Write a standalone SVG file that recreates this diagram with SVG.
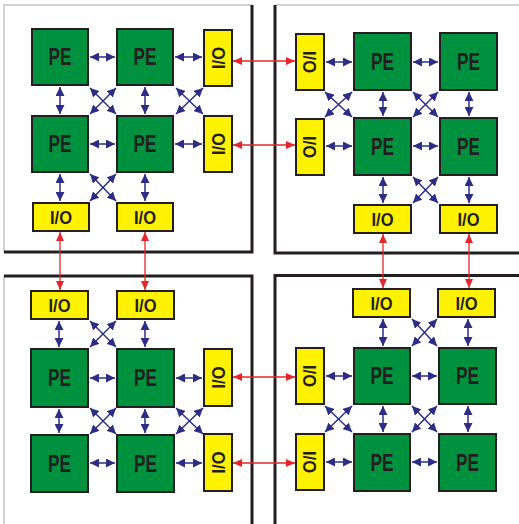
<svg xmlns="http://www.w3.org/2000/svg" width="519" height="524" viewBox="0 0 519 524">
<style>
.pe{fill:#00913f;stroke:#231f20;stroke-width:2}
.io{fill:#fff200;stroke:#231f20;stroke-width:2}
.t{font-family:"Liberation Sans",Arial,sans-serif;font-weight:bold;fill:#231f20;text-anchor:middle}
.tp{font-size:23px}
.ti{font-size:19px}
.n{stroke:#2e2d86;stroke-width:1.5;fill:none;marker-start:url(#nh);marker-end:url(#nh)}
.r{stroke:#e5262a;stroke-width:1.3;fill:none;marker-start:url(#rh);marker-end:url(#rh)}
.gl{stroke:#c4c4c4;stroke-width:1.5;fill:none}
.bl{stroke:#231f20;stroke-width:3;fill:none}
</style>
<defs>
<marker id="nh" viewBox="0 0 9 9" markerWidth="9" markerHeight="9" refX="9" refY="4.5" orient="auto-start-reverse" markerUnits="userSpaceOnUse"><path d="M0,0 L9,4.5 L0,9 z" fill="#2e2d86"/></marker>
<marker id="rh" viewBox="0 0 9 8" markerWidth="9" markerHeight="8" refX="9" refY="4" orient="auto-start-reverse" markerUnits="userSpaceOnUse"><path d="M0,0 L9,4 L0,8 z" fill="#e5262a"/></marker>
</defs>
<rect width="519" height="524" fill="#fff"/>
<g id="panels">
<path class="gl" d="M4,252 V5 H252"/>
<path class="bl" d="M252,5 V252 H4"/>
<path class="gl" d="M275,5 H519"/>
<path class="bl" d="M275,5 V253 H519"/>
<path class="gl" d="M4,276 V524"/>
<path class="bl" d="M4,276 H252 V524"/>
<path class="bl" d="M275,524 V275.5 H519"/>
</g>
<g id="connectors">
<!-- TL -->
<path class="n" d="M90,57 H115"/><path class="n" d="M175,57 H202"/>
<path class="n" d="M90,144 H115"/><path class="n" d="M175,144 H202"/>
<path class="n" d="M60,87 V114"/><path class="n" d="M145,87 V114"/>
<path class="n" d="M60,174 V201"/><path class="n" d="M145,174 V201"/>
<path class="n" d="M90,88 L116,114"/><path class="n" d="M116,88 L90,114"/>
<path class="n" d="M176,88 L203,114"/><path class="n" d="M203,88 L176,114"/>
<path class="n" d="M90,174 L116,201"/><path class="n" d="M116,174 L90,201"/>
<!-- TR -->
<path class="n" d="M326,62 H352"/><path class="n" d="M413,62 H438"/>
<path class="n" d="M326,146 H352"/><path class="n" d="M413,146 H438"/>
<path class="n" d="M383,92 V116"/><path class="n" d="M469,92 V116"/>
<path class="n" d="M383,177 V203"/><path class="n" d="M469,177 V203"/>
<path class="n" d="M325,92 L352,117"/><path class="n" d="M352,92 L325,117"/>
<path class="n" d="M413,92 L438,117"/><path class="n" d="M438,92 L413,117"/>
<path class="n" d="M413,177 L438,203"/><path class="n" d="M438,177 L413,203"/>
<!-- BL -->
<path class="n" d="M59,321 V347"/><path class="n" d="M145,321 V347"/>
<path class="n" d="M59,409 V433"/><path class="n" d="M145,409 V433"/>
<path class="n" d="M90,378 H115"/><path class="n" d="M176,378 H202"/>
<path class="n" d="M90,463 H115"/><path class="n" d="M176,463 H202"/>
<path class="n" d="M90,321 L116,347"/><path class="n" d="M116,321 L90,347"/>
<path class="n" d="M90,408 L116,434"/><path class="n" d="M116,408 L90,434"/>
<path class="n" d="M176,408 L203,434"/><path class="n" d="M203,408 L176,434"/>
<!-- BR -->
<path class="n" d="M383,319 V346"/><path class="n" d="M468,319 V346"/>
<path class="n" d="M383,406 V432"/><path class="n" d="M468,406 V432"/>
<path class="n" d="M326,376 H352"/><path class="n" d="M412,376 H437"/>
<path class="n" d="M326,462 H352"/><path class="n" d="M412,462 H437"/>
<path class="n" d="M412,319 L437,346"/><path class="n" d="M437,319 L412,346"/>
<path class="n" d="M325,406 L352,432"/><path class="n" d="M352,406 L325,432"/>
<path class="n" d="M412,406 L437,432"/><path class="n" d="M437,406 L412,432"/>
<!-- red inter-panel -->
<path class="r" d="M233,61 H295"/><path class="r" d="M233,145 H295"/>
<path class="r" d="M60,232 V290"/><path class="r" d="M145,232 V290"/>
<path class="r" d="M383,234 V288"/><path class="r" d="M469,234 V288"/>
<path class="r" d="M233,377 H295"/><path class="r" d="M233,463 H295"/>
</g>
<!-- TL nodes -->
<g id="tl-pe1"><rect class="pe" x="32" y="29" width="56" height="56"/><text class="t tp" x="60" y="65.2" textLength="23" lengthAdjust="spacingAndGlyphs">PE</text></g>
<g id="tl-pe2"><rect class="pe" x="117" y="29" width="56" height="56"/><text class="t tp" x="145" y="65.2" textLength="23" lengthAdjust="spacingAndGlyphs">PE</text></g>
<g id="tl-pe3"><rect class="pe" x="32" y="116" width="56" height="56"/><text class="t tp" x="60" y="152.2" textLength="23" lengthAdjust="spacingAndGlyphs">PE</text></g>
<g id="tl-pe4"><rect class="pe" x="117" y="116" width="56" height="56"/><text class="t tp" x="145" y="152.2" textLength="23" lengthAdjust="spacingAndGlyphs">PE</text></g>
<g id="tl-io1"><rect class="io" x="204" y="30" width="28" height="56"/><text class="t ti" transform="translate(218,58) rotate(-90)" x="0" y="6.8" textLength="22" lengthAdjust="spacingAndGlyphs">I/O</text></g>
<g id="tl-io2"><rect class="io" x="204" y="116" width="28" height="56"/><text class="t ti" transform="translate(218,144) rotate(-90)" x="0" y="6.8" textLength="22" lengthAdjust="spacingAndGlyphs">I/O</text></g>
<g id="tl-io3"><rect class="io" x="33" y="203" width="56" height="28"/><text class="t ti" x="61" y="223.8" textLength="22" lengthAdjust="spacingAndGlyphs">I/O</text></g>
<g id="tl-io4"><rect class="io" x="117" y="203" width="56" height="28"/><text class="t ti" x="145" y="223.8" textLength="22" lengthAdjust="spacingAndGlyphs">I/O</text></g>
<!-- TR nodes -->
<g id="tr-io1"><rect class="io" x="296" y="34" width="28" height="56"/><text class="t ti" transform="translate(310,62) rotate(90)" x="0" y="6.8" textLength="22" lengthAdjust="spacingAndGlyphs">I/O</text></g>
<g id="tr-io2"><rect class="io" x="296" y="119" width="28" height="56"/><text class="t ti" transform="translate(310,147) rotate(90)" x="0" y="6.8" textLength="22" lengthAdjust="spacingAndGlyphs">I/O</text></g>
<g id="tr-pe1"><rect class="pe" x="354" y="33" width="57" height="57"/><text class="t tp" x="382.5" y="69.7" textLength="23" lengthAdjust="spacingAndGlyphs">PE</text></g>
<g id="tr-pe2"><rect class="pe" x="440" y="33" width="57" height="57"/><text class="t tp" x="468.5" y="69.7" textLength="23" lengthAdjust="spacingAndGlyphs">PE</text></g>
<g id="tr-pe3"><rect class="pe" x="354" y="118" width="57" height="57"/><text class="t tp" x="382.5" y="154.7" textLength="23" lengthAdjust="spacingAndGlyphs">PE</text></g>
<g id="tr-pe4"><rect class="pe" x="440" y="118" width="57" height="57"/><text class="t tp" x="468.5" y="154.7" textLength="23" lengthAdjust="spacingAndGlyphs">PE</text></g>
<g id="tr-io3"><rect class="io" x="354" y="205" width="57" height="28"/><text class="t ti" x="382.5" y="225.8" textLength="22" lengthAdjust="spacingAndGlyphs">I/O</text></g>
<g id="tr-io4"><rect class="io" x="440" y="205" width="57" height="28"/><text class="t ti" x="468.5" y="225.8" textLength="22" lengthAdjust="spacingAndGlyphs">I/O</text></g>
<!-- BL nodes -->
<g id="bl-io1"><rect class="io" x="31" y="291" width="57" height="28"/><text class="t ti" x="59.5" y="311.8" textLength="22" lengthAdjust="spacingAndGlyphs">I/O</text></g>
<g id="bl-io2"><rect class="io" x="117" y="291" width="57" height="28"/><text class="t ti" x="145.5" y="311.8" textLength="22" lengthAdjust="spacingAndGlyphs">I/O</text></g>
<g id="bl-pe1"><rect class="pe" x="31" y="349" width="57" height="58"/><text class="t tp" x="59.5" y="386.2" textLength="23" lengthAdjust="spacingAndGlyphs">PE</text></g>
<g id="bl-pe2"><rect class="pe" x="117" y="349" width="57" height="58"/><text class="t tp" x="145.5" y="386.2" textLength="23" lengthAdjust="spacingAndGlyphs">PE</text></g>
<g id="bl-pe3"><rect class="pe" x="31" y="435" width="57" height="57"/><text class="t tp" x="59.5" y="471.7" textLength="23" lengthAdjust="spacingAndGlyphs">PE</text></g>
<g id="bl-pe4"><rect class="pe" x="117" y="435" width="57" height="57"/><text class="t tp" x="145.5" y="471.7" textLength="23" lengthAdjust="spacingAndGlyphs">PE</text></g>
<g id="bl-io3"><rect class="io" x="204" y="349" width="28" height="57"/><text class="t ti" transform="translate(218,377.5) rotate(-90)" x="0" y="6.8" textLength="22" lengthAdjust="spacingAndGlyphs">I/O</text></g>
<g id="bl-io4"><rect class="io" x="204" y="434" width="28" height="57"/><text class="t ti" transform="translate(218,462.5) rotate(-90)" x="0" y="6.8" textLength="22" lengthAdjust="spacingAndGlyphs">I/O</text></g>
<!-- BR nodes -->
<g id="br-io1"><rect class="io" x="353" y="289" width="57" height="28"/><text class="t ti" x="381.5" y="309.8" textLength="22" lengthAdjust="spacingAndGlyphs">I/O</text></g>
<g id="br-io2"><rect class="io" x="438" y="289" width="57" height="28"/><text class="t ti" x="466.5" y="309.8" textLength="22" lengthAdjust="spacingAndGlyphs">I/O</text></g>
<g id="br-pe1"><rect class="pe" x="354" y="348" width="56" height="56"/><text class="t tp" x="382" y="384.2" textLength="23" lengthAdjust="spacingAndGlyphs">PE</text></g>
<g id="br-pe2"><rect class="pe" x="439" y="348" width="57" height="56"/><text class="t tp" x="467.5" y="384.2" textLength="23" lengthAdjust="spacingAndGlyphs">PE</text></g>
<g id="br-pe3"><rect class="pe" x="354" y="434" width="56" height="57"/><text class="t tp" x="382" y="470.7" textLength="23" lengthAdjust="spacingAndGlyphs">PE</text></g>
<g id="br-pe4"><rect class="pe" x="439" y="434" width="57" height="57"/><text class="t tp" x="467.5" y="470.7" textLength="23" lengthAdjust="spacingAndGlyphs">PE</text></g>
<g id="br-io3"><rect class="io" x="296" y="348" width="28" height="56"/><text class="t ti" transform="translate(310,376) rotate(90)" x="0" y="6.8" textLength="22" lengthAdjust="spacingAndGlyphs">I/O</text></g>
<g id="br-io4"><rect class="io" x="296" y="434" width="28" height="56"/><text class="t ti" transform="translate(310,462) rotate(90)" x="0" y="6.8" textLength="22" lengthAdjust="spacingAndGlyphs">I/O</text></g>
</svg>
